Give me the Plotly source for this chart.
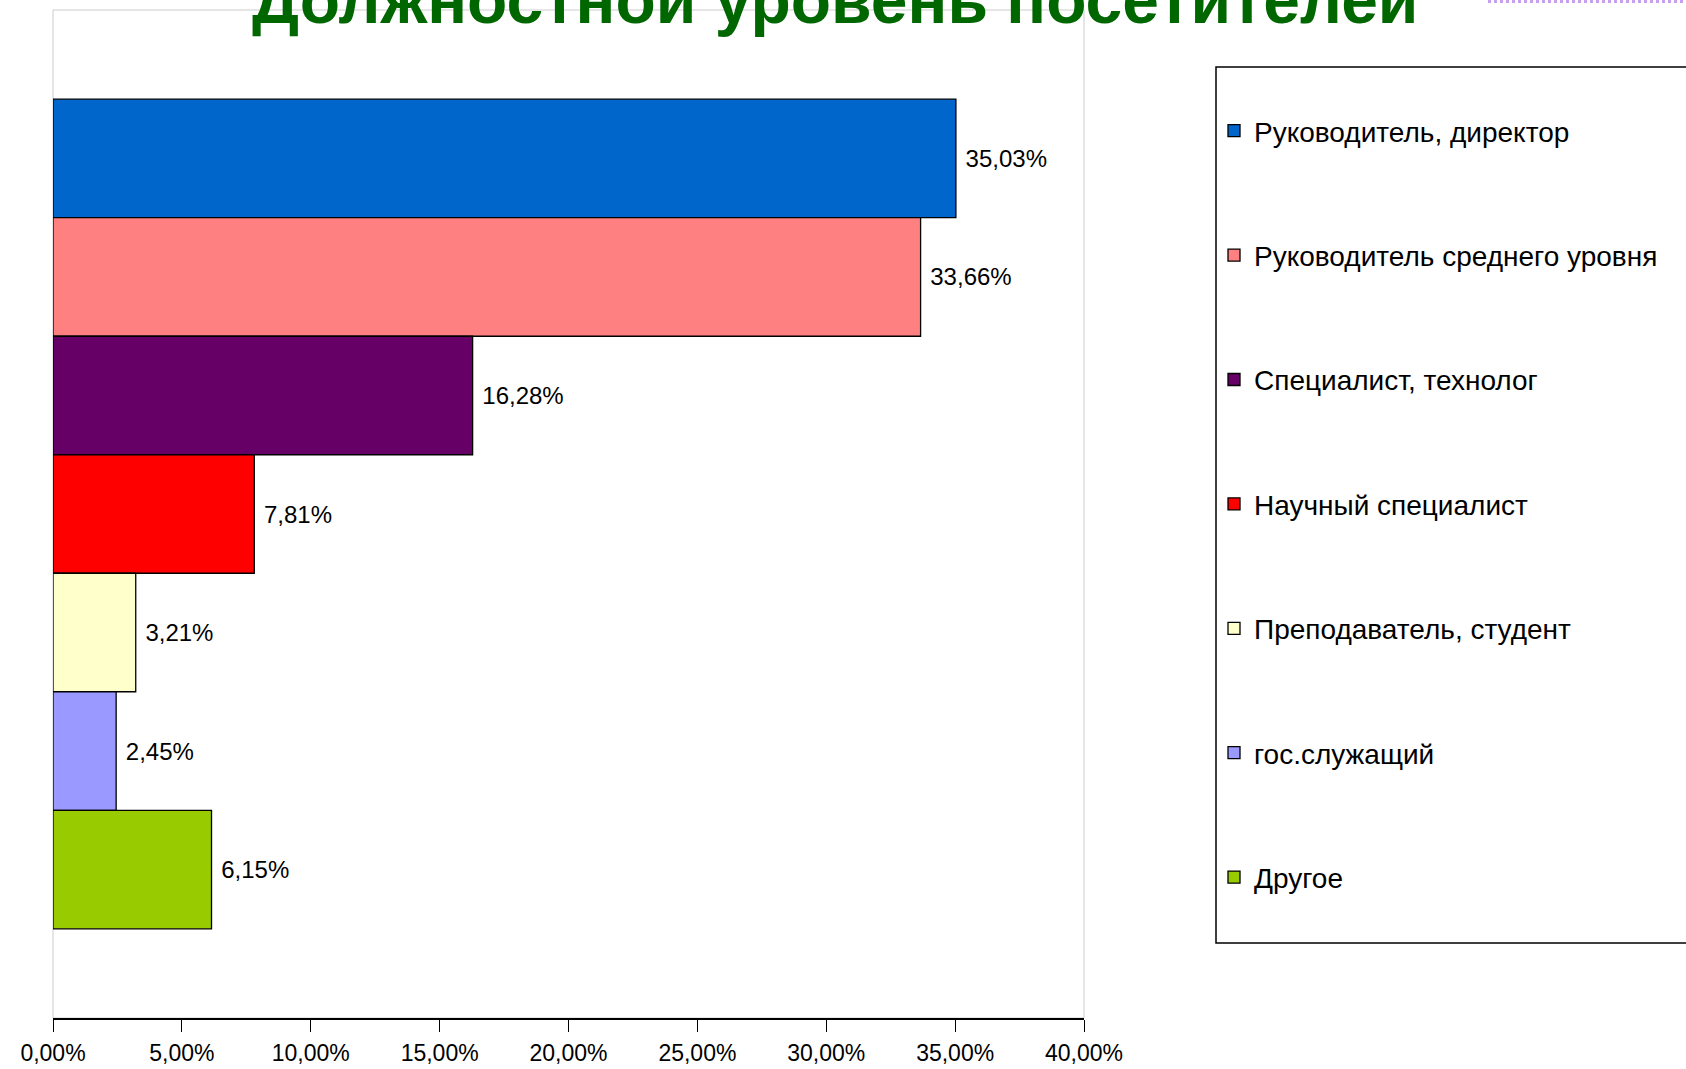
import plotly.graph_objects as go

categories = [
    "Руководитель, директор",
    "Руководитель среднего уровня",
    "Специалист, технолог",
    "Научный специалист",
    "Преподаватель, студент",
    "гос.служащий",
    "Другое",
]
values = [35.03, 33.66, 16.28, 7.81, 3.21, 2.45, 6.15]
colors = ["#0066CC", "#FF8080", "#660066", "#FF0000", "#FFFFCC", "#9999FF", "#99CC00"]
x_ticks = [0, 5, 10, 15, 20, 25, 30, 35, 40]
x_tick_labels = ["0,00%", "5,00%", "10,00%", "15,00%", "20,00%", "25,00%", "30,00%", "35,00%", "40,00%"]
title_text = "Должностной уровень посетителей"

W, H = 1686, 1069
L, R, T, B = 53, 1084, 10, 1018


def px_x(p):
    return (p - L) / (R - L)


def px_y(p):
    return (B - p) / (B - T)


fig = go.Figure()
for name, v, c in zip(categories, values, colors):
    fig.add_trace(go.Bar(
        y=[""], x=[v], name=name, orientation="h",
        marker=dict(color=c, line=dict(color="#000000", width=1.3)),
        texttemplate=" %{x:.2f}%", textposition="outside",
        textfont=dict(family="Liberation Sans, Arial", size=24, color="#000000"),
        cliponaxis=False, legendgroup=name,
    ))

fig.update_layout(
    width=W, height=H,
    margin=dict(l=L, r=W - R, t=T, b=H - B, autoexpand=False),
    paper_bgcolor="white", plot_bgcolor="white",
    separators=", ",
    barmode="group", bargap=0.177, bargroupgap=0,
    xaxis=dict(range=[0, 40], tickvals=x_ticks, ticktext=x_tick_labels,
               showgrid=False, zeroline=False, showline=True, linecolor="#000000", linewidth=1.5,
               ticks="outside", ticklen=12, tickwidth=1.3, tickcolor="#000000", ticklabelstandoff=2,
               tickfont=dict(family="Liberation Sans, Arial", size=23, color="#000000")),
    yaxis=dict(range=[0.5, -0.5], showticklabels=False, showgrid=False, zeroline=False, showline=False),
    legend=dict(x=px_x(1214), xanchor="left", y=px_y(106), yanchor="top",
                borderwidth=0, bgcolor="rgba(0,0,0,0)", tracegroupgap=85, traceorder="grouped",
                font=dict(family="Liberation Sans, Arial", size=28, color="#000000"), itemwidth=30),
    annotations=[
        dict(text=f"<b>{title_text}</b>", xref="paper", yref="paper",
             x=px_x((245 + 1425) / 2), y=1, xanchor="center", yanchor="middle", yshift=10,
             showarrow=False,
             font=dict(family="Liberation Sans, Arial", size=66, color="#006600")),
    ],
    shapes=[
        dict(type="rect", xref="x domain", yref="y domain", x0=0, x1=1, y0=0, y1=1,
             line=dict(color="#CCCCCC", width=1), layer="below"),
        dict(type="rect", xref="paper", yref="paper",
             x0=px_x(1216), x1=px_x(1700), y0=px_y(943), y1=px_y(67),
             line=dict(color="#000000", width=1.5)),
        dict(type="line", xref="paper", yref="paper",
             x0=px_x(1488), x1=px_x(1690), y0=px_y(1.5), y1=px_y(1.5),
             line=dict(color="#C8A0F0", width=3, dash="dot")),
    ],
    showlegend=True,
)

fig.write_html("out.html", config={"displayModeBar": False},
               post_script="document.body.style.margin='0';document.body.style.overflow='hidden';")
